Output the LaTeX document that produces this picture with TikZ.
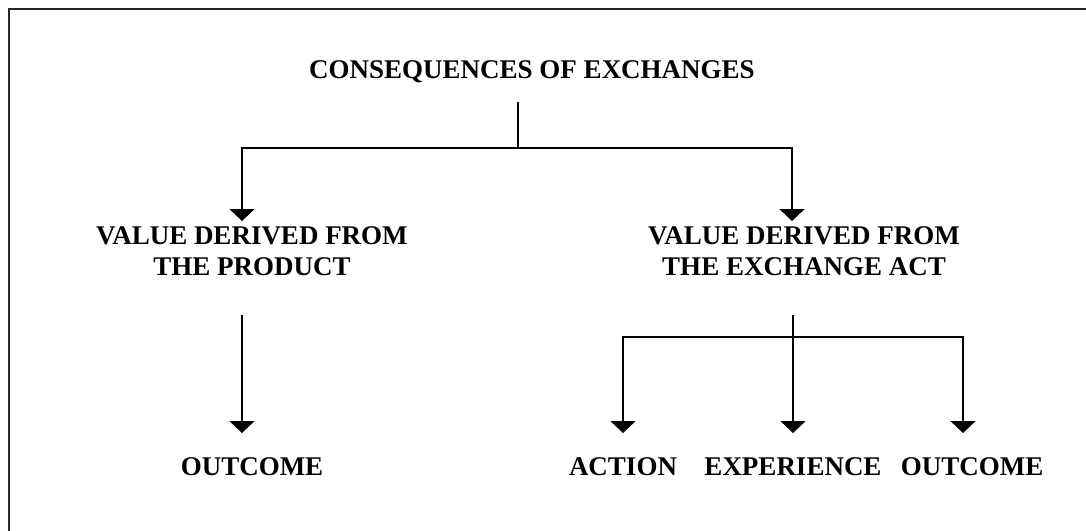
\documentclass[tikz,border=0pt]{standalone}
\usepackage{fontspec}
\setmainfont{Liberation Serif}
\usetikzlibrary{arrows.meta}

\begin{document}
\begin{tikzpicture}[x=1pt,y=-1pt]
  \tikzstyle{TextStyle}=[font=\bfseries\fontsize{27}{31}\selectfont,inner sep=0pt,align=center]
  \tikzstyle{EdgeStyle}=[line width=1.7pt]
  \tikzstyle{post}=[EdgeStyle,-{Triangle[width=25pt,length=12pt]}]
  \useasboundingbox (0,0) rectangle (1086,530);
  \draw[line width=2pt,black!85] (1090,9) -- (9,9) -- (9,535);
  % texts
  \node[TextStyle,anchor=base west] (title) at (309,78) {CONSEQUENCES OF EXCHANGES};
  \node[TextStyle,anchor=north] (prod) at (252,226) {VALUE DERIVED FROM\\THE PRODUCT};
  \node[TextStyle,anchor=north] (exch) at (804,226) {VALUE DERIVED FROM\\THE EXCHANGE ACT};
  \node[TextStyle,anchor=base] (outA) at (252,475) {OUTCOME};
  \node[TextStyle,anchor=base] (act) at (623,475) {ACTION};
  \node[TextStyle,anchor=base] (expr) at (793,475) {EXPERIENCE};
  \node[TextStyle,anchor=base] (outB) at (972,475) {OUTCOME};
  % joints
  \coordinate (T) at (518,102);
  \coordinate (J1) at (518,148);
  \coordinate (P1) at (242,221);
  \coordinate (E1) at (792,221);
  \coordinate (P2) at (242,315);
  \coordinate (E2) at (793,315);
  \coordinate (J2) at (793,337);
  \coordinate (P3) at (242,433);
  \coordinate (A3) at (623,433);
  \coordinate (X3) at (793,433);
  \coordinate (O3) at (963,433);
  \draw[EdgeStyle] (T) -- (J1);
  \draw[post] (J1) -| (P1);
  \draw[post] (J1) -| (E1);
  \draw[post] (P2) -- (P3);
  \draw[post] (E2) -- (X3);
  \draw[post] (J2) -| (A3);
  \draw[post] (J2) -| (O3);
\end{tikzpicture}
\end{document}
